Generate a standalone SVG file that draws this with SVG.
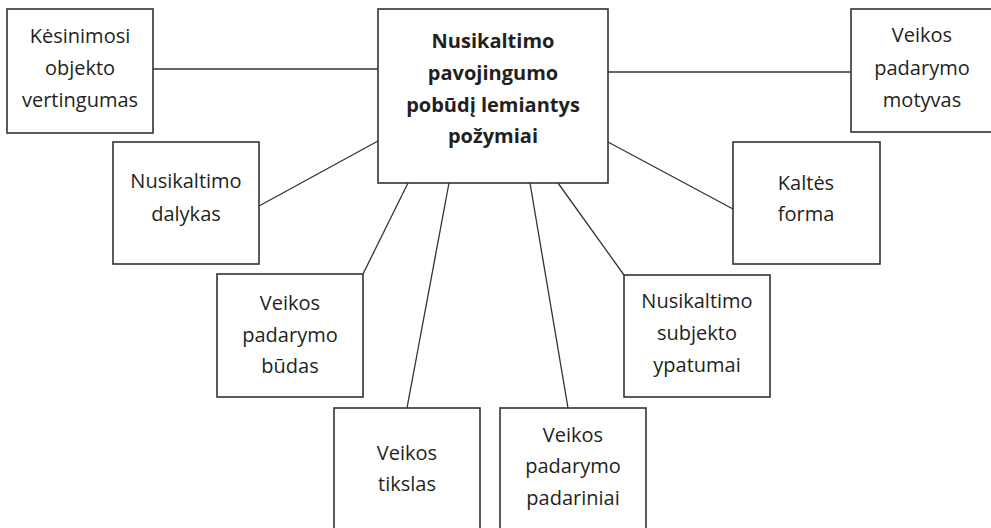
<svg xmlns="http://www.w3.org/2000/svg" width="991" height="528" viewBox="0 0 991 528">
<style>
.box{fill:#fff;stroke:#333;stroke-width:1.6}
.ln{stroke:#333;stroke-width:1.3;fill:none}
text{font-family:"Open Sans","Noto Sans",sans-serif;font-size:20px;fill:#231f20;text-anchor:middle}
.b{font-weight:bold}
</style>
<rect width="991" height="528" fill="#fff"/>
<g id="connectors">
<line class="ln" x1="153" y1="69" x2="378" y2="69"/>
<line class="ln" x1="608" y1="72" x2="851" y2="72"/>
<line class="ln" x1="259" y1="206" x2="378" y2="141"/>
<line class="ln" x1="608" y1="142" x2="733" y2="209"/>
<line class="ln" x1="363" y1="274" x2="408" y2="183"/>
<line class="ln" x1="449" y1="183" x2="407" y2="408"/>
<line class="ln" x1="530" y1="183" x2="568" y2="408"/>
<line class="ln" x1="558" y1="183" x2="624" y2="275"/>
</g>
<g id="center">
<rect class="box" x="378" y="9" width="230" height="174"/>
<text class="b" x="493" y="48">Nusikaltimo</text>
<text class="b" x="493" y="80">pavojingumo</text>
<text class="b" x="493" y="112">pobūdį lemiantys</text>
<text class="b" x="493" y="143">požymiai</text>
</g>
<g id="kesinimosi">
<rect class="box" x="7" y="9" width="146" height="124"/>
<text x="80" y="43">Kėsinimosi</text>
<text x="80" y="75">objekto</text>
<text x="80" y="107">vertingumas</text>
</g>
<g id="motyvas">
<rect class="box" x="851" y="9" width="142" height="123"/>
<text x="922" y="42">Veikos</text>
<text x="922" y="75">padarymo</text>
<text x="922" y="107">motyvas</text>
</g>
<g id="dalykas">
<rect class="box" x="113" y="142" width="146" height="122"/>
<text x="186" y="188">Nusikaltimo</text>
<text x="186" y="221">dalykas</text>
</g>
<g id="kaltes">
<rect class="box" x="733" y="142" width="147" height="122"/>
<text x="806" y="190">Kaltės</text>
<text x="806" y="221">forma</text>
</g>
<g id="budas">
<rect class="box" x="217" y="274" width="146" height="123"/>
<text x="290" y="310">Veikos</text>
<text x="290" y="342">padarymo</text>
<text x="290" y="373">būdas</text>
</g>
<g id="subjekto">
<rect class="box" x="624" y="275" width="146" height="122"/>
<text x="697" y="308">Nusikaltimo</text>
<text x="697" y="340">subjekto</text>
<text x="697" y="372">ypatumai</text>
</g>
<g id="tikslas">
<rect class="box" x="334" y="408" width="146" height="130"/>
<text x="407" y="460">Veikos</text>
<text x="407" y="491">tikslas</text>
</g>
<g id="padariniai">
<rect class="box" x="500" y="408" width="146" height="130"/>
<text x="573" y="442">Veikos</text>
<text x="573" y="473">padarymo</text>
<text x="573" y="505">padariniai</text>
</g>
</svg>
